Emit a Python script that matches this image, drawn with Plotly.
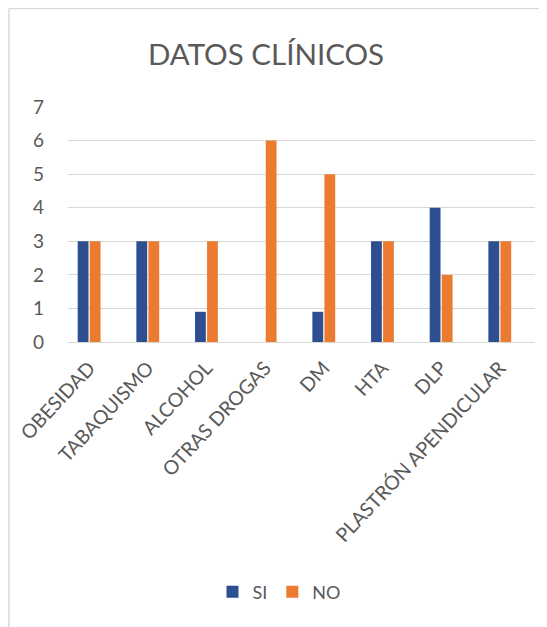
import plotly.graph_objects as go

categories = ["OBESIDAD", "TABAQUISMO", "ALCOHOL", "OTRAS DROGAS", "DM", "HTA", "DLP", "PLASTRÓN APENDICULAR"]
si_values = [3, 3, 0.9, 0, 0.9, 3, 4, 3]
no_values = [3, 3, 3, 6, 5, 3, 2, 3]
y_ticks = [0, 1, 2, 3, 4, 5, 6, 7]

FONT = "Lato"
GRAY = "#595959"
OFF = 8  # browser body margin

fig = go.Figure()
fig.add_trace(go.Bar(name="SI", x=categories, y=si_values,
                     marker=dict(color="#2E4F8F", line=dict(width=0))))
fig.add_trace(go.Bar(name="NO", x=categories, y=no_values,
                     marker=dict(color="#EA7B31", line=dict(width=0))))

W, H = 547 - OFF, 627 - OFF
L = 68 - OFF
T = 107 - OFF
B = H - (342 - OFF)
R = W - (535 - OFF)
ph = H - T - B
pw = W - L - R

def px_to_xp(px):
    return (px - OFF - L) / pw

def py_to_yp(py):
    return (H - B - (py - OFF)) / ph

fig.update_layout(
    width=W, height=H,
    margin=dict(l=L, r=R, t=T, b=B, autoexpand=False),
    paper_bgcolor="white", plot_bgcolor="white",
    font=dict(family=FONT, color=GRAY),
    title=dict(text="DATOS CLÍNICOS", x=(266 - OFF) / W, xanchor="center",
               y=1 - (55 - OFF) / H, yanchor="middle",
               font=dict(size=29.5, color=GRAY, family=FONT)),
    barmode="group", bargap=0.59, bargroupgap=0.1,
    showlegend=True,
    legend=dict(orientation="h", x=px_to_xp(279), xanchor="center",
                y=py_to_yp(592), yanchor="middle",
                font=dict(size=18, color=GRAY, family=FONT),
                itemwidth=30, traceorder="normal"),
    xaxis=dict(range=[-0.36, 7.6], tickangle=-47, showgrid=False,
               showline=True, linecolor="#d9d9d9", linewidth=1,
               ticklabelstandoff=6,
               tickfont=dict(size=19.5, color=GRAY, family=FONT), ticks=""),
    yaxis=dict(range=[0, 7], tickvals=y_ticks, showgrid=True, gridcolor="#d9d9d9",
               gridwidth=1, zeroline=False, showline=False, ticks="",
               ticklabelstandoff=23,
               tickfont=dict(size=19, color=GRAY, family=FONT)),
    shapes=[
        dict(type="line", xref="paper", yref="paper",
             x0=px_to_xp(9), x1=px_to_xp(547), y0=py_to_yp(8.5), y1=py_to_yp(8.5),
             line=dict(color="#d9d9d9", width=1.5)),
        dict(type="line", xref="paper", yref="paper",
             x0=px_to_xp(9), x1=px_to_xp(9), y0=py_to_yp(8.5), y1=py_to_yp(627),
             line=dict(color="#d9d9d9", width=1.5)),
    ],
)

fig.write_html("out.html")
